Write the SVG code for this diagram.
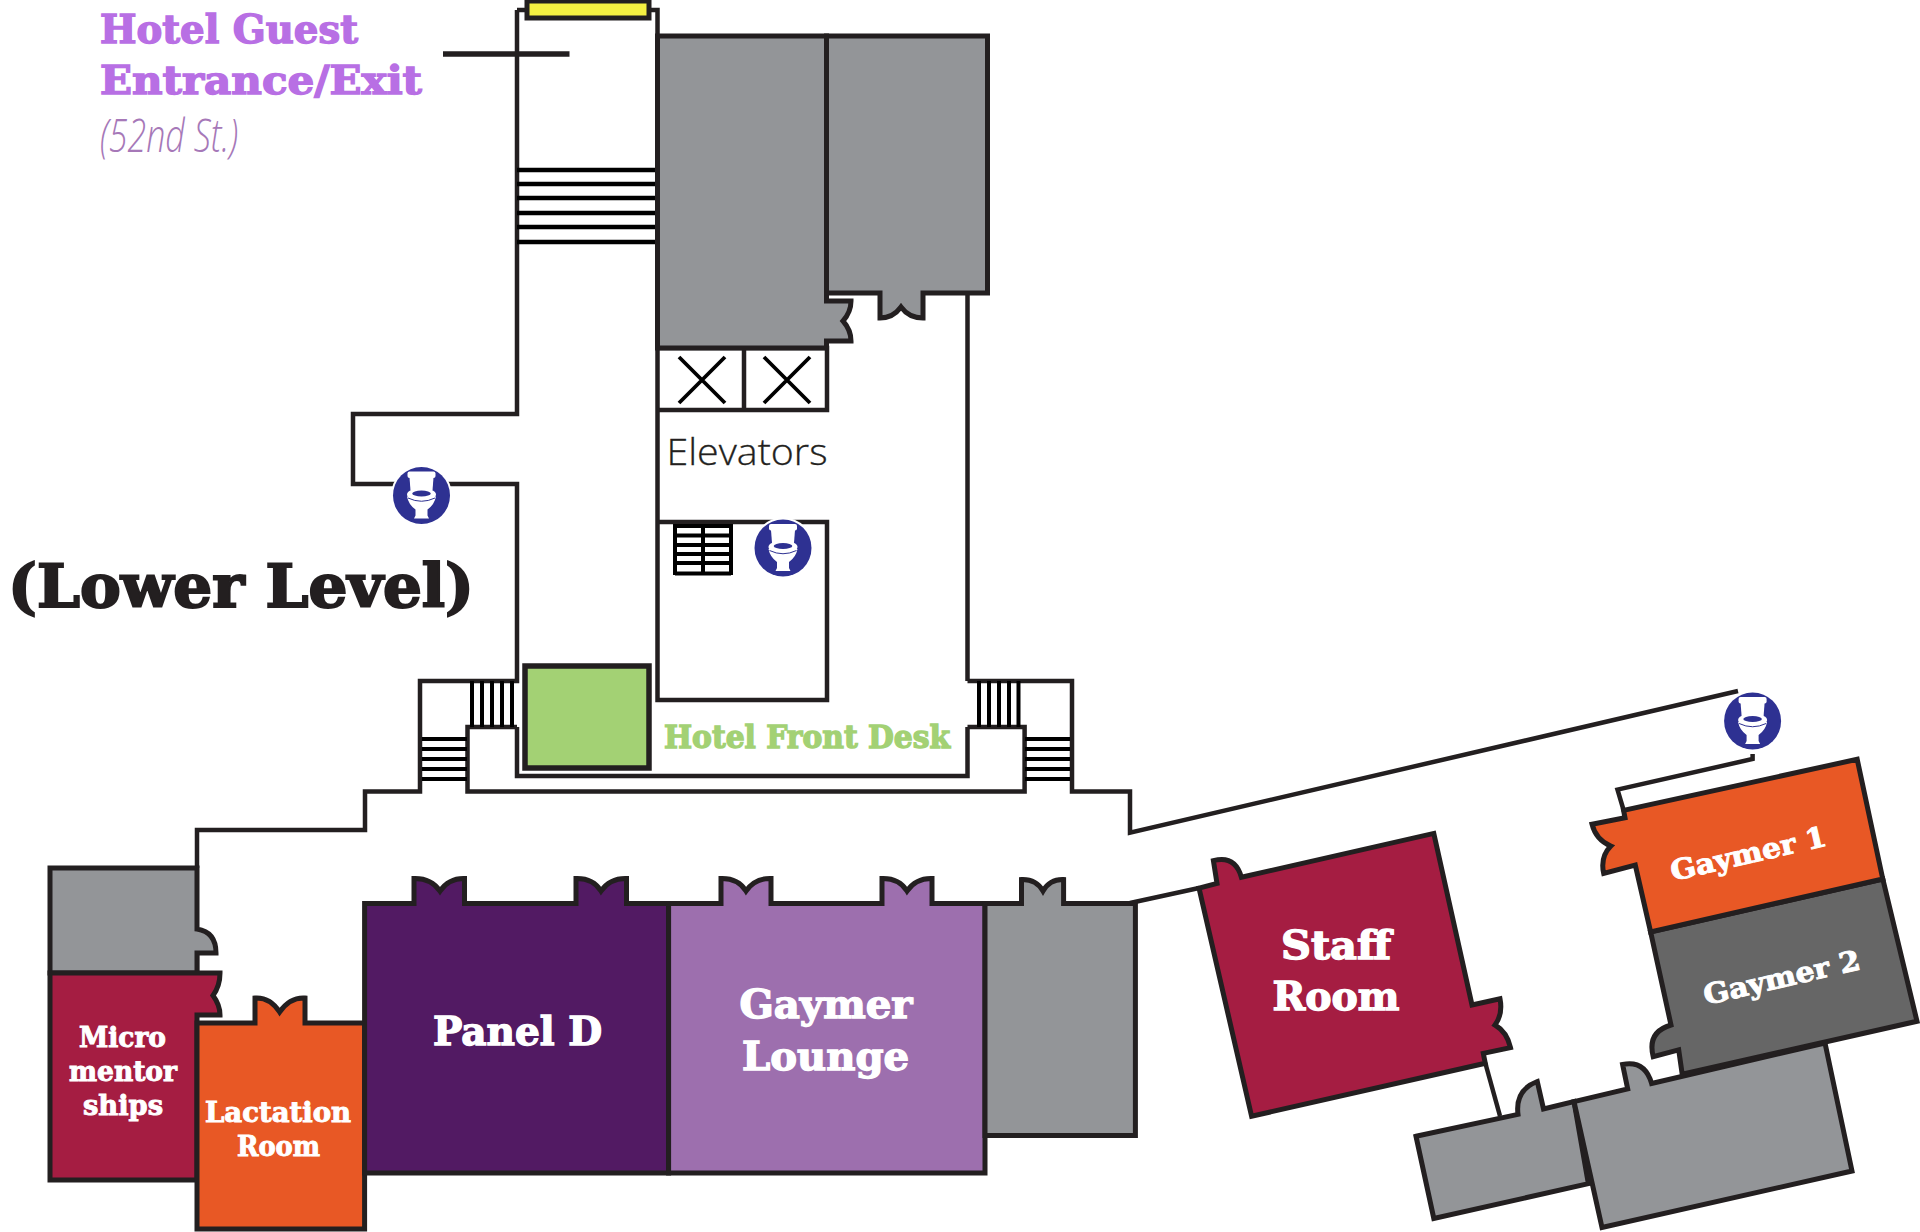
<svg xmlns="http://www.w3.org/2000/svg" xmlns:xlink="http://www.w3.org/1999/xlink" width="1920" height="1232" viewBox="0 0 1920 1232">
<style>
.wall{fill:none;stroke:#231f20;stroke-width:4.5;stroke-linejoin:miter}
.room{stroke:#231f20;stroke-width:5;stroke-linejoin:miter}
.stair{fill:none;stroke:#000;stroke-width:4.5}
.stair2{fill:none;stroke:#000;stroke-width:4}
.gray{fill:#939598}
.crimson{fill:#a51d42}
.orange{fill:#e85825}
.purple{fill:#521a63}
.lav{fill:#9d6fae}
.dgray{fill:#666}
.slab{font-family:"DejaVu Serif Condensed","DejaVu Serif",serif;font-weight:700;stroke-width:1.3;stroke-linejoin:miter}
.w{fill:#fff;stroke:#fff;text-anchor:start}
.m{font-size:28px;stroke-width:.9}
.l{font-size:40px}
</style>
<defs>
<g id="toilet">
<circle r="30.5" fill="#fff"/>
<circle r="28.5" fill="#2e3192"/>
<rect x="-14" y="-24" width="28" height="6.5" rx="2" fill="#fff"/>
<path d="M-12,-18L-11,-5H11L12,-18Z" fill="#fff"/>
<path d="M-14.5,1Q-13,9 -6,14L-6,20L-7.5,23H7.5L6,20L6,14Q13,9 14.5,1Z" fill="#fff"/>
<ellipse cx="0" cy="-1" rx="14.5" ry="6.5" fill="#fff"/>
<ellipse cx="0" cy="-2" rx="9.3" ry="3" fill="#2e3192"/>
<path d="M-13.5,2.5Q0,9 13.5,2.5" fill="none" stroke="#2e3192" stroke-width="1"/>
</g>
</defs>
<rect width="1920" height="1232" fill="#fff"/>
<g id="connectors">
<path class="wall" d="M517,10V414H353V484H517V681H420V791.5H365V830H197V868"/>
<path class="wall" d="M197,953V973"/>
<path class="wall" d="M517,10H657.5V700H827V522H657.5"/>
<path class="wall" d="M517,727H467.5V791.5H1024.6V727H967.5"/>
<path class="wall" d="M517,727V776H967.5V727M967.5,681V294"/>
<path class="wall" d="M967.5,681H1072V791.5H1130V832.6L1738,691"/>
<path class="wall" d="M1130,903L1199,888"/>
<path class="wall" d="M1752.6,754V759L1617.5,789.6L1624,811.5"/>
<path class="wall" d="M1485.3,1063L1500,1116"/>
<path class="wall" d="M657.5,348H827V410H657.5M744,348V410"/>
</g>
<g id="stairs">
<path class="stair" d="M517,170H657M517,184H657M517,198H657M517,213H657M517,227H657M517,242H657"/>
<path class="stair2" d="M472,681V727M482,681V727M492,681V727M502,681V727M512,681V727"/>
<path class="stair2" d="M979,681V727M989,681V727M999,681V727M1009,681V727M1018.5,681V727"/>
<path class="stair2" d="M422,739H467M422,749H467M422,759H467M422,769H467M422,779H467"/>
<path class="stair2" d="M1025,739H1070M1025,749H1070M1025,759H1070M1025,769H1070M1025,779H1070"/>
<path class="stair2" d="M675,526H731M675,535.5H731M675,545H731M675,554H731M675,563H731M675,573.5H731M675,524V575M703,524V575M731,524V575"/>
<path d="M679,357L725,403M725,357L679,403M764,357L810,403M810,357L764,403" fill="none" stroke="#000" stroke-width="3.8"/>
<path d="M443,54H569.5" fill="none" stroke="#231f20" stroke-width="5.5"/>
</g>
<g id="entrance"><rect class="room" x="527" y="1" width="122" height="17" fill="#f5f042"/></g>
<g id="gray-a"><path class="room gray" d="M657.5,36H826.5V301H851Q851,312 843,321Q851,330 851,341H826.5V348H657.5Z"/></g>
<g id="gray-b"><path class="room gray" d="M826.5,36H987.5V293H923V318Q909,318 901,307Q893,318 880,318V293H826.5Z"/></g>
<g id="front-desk"><rect class="room" x="525" y="666" width="124" height="102" fill="#a3d174" style="stroke-width:5.5"/></g>
<g id="gray-c"><path class="room gray" d="M50,868H197V929Q216,932 216,953H197V973H50Z"/></g>
<g id="micromentorships"><path class="room crimson" d="M50,973H220Q220,986 213,995.5Q220,1005 220,1015H197V1180H50Z"/>
<text class="slab w m" x="79" y="1047" textLength="87" lengthAdjust="spacingAndGlyphs">Micro</text>
<text class="slab w m" x="69" y="1081" textLength="108" lengthAdjust="spacingAndGlyphs">mentor</text>
<text class="slab w m" x="83" y="1115" textLength="80" lengthAdjust="spacingAndGlyphs">ships</text></g>
<g id="lactation"><path class="room orange" d="M197,1023H255V998Q270,997 279.6,1012Q290,997 305,998V1023H364.6V1229H197Z"/>
<text class="slab w m" x="205" y="1122" textLength="146" lengthAdjust="spacingAndGlyphs">Lactation</text>
<text class="slab w m" x="237" y="1155.5" textLength="83" lengthAdjust="spacingAndGlyphs">Room</text></g>
<g id="panel-d"><path class="room purple" d="M364.6,903.4H414V878.5Q431,878 440,891Q449,878 464.5,878.5V903.4H576V878.5Q593,878 601,891Q610,878 626.5,878.5V903.4H668.6V1173H364.6Z"/>
<text class="slab w l" x="433" y="1045" textLength="169" lengthAdjust="spacingAndGlyphs">Panel D</text></g>
<g id="gaymer-lounge"><path class="room lav" d="M668.6,903.4H721V878.5Q738,878 746,891Q755,878 771,878.5V903.4H882V878.5Q899,878 907,891Q916,878 932,878.5V903.4H985V1173H668.6Z"/>
<text class="slab w l" x="739.5" y="1018" textLength="173" lengthAdjust="spacingAndGlyphs">Gaymer</text>
<text class="slab w l" x="742" y="1070" textLength="167" lengthAdjust="spacingAndGlyphs">Lounge</text></g>
<g id="gray-d"><path class="room gray" d="M985,903.4H1021.5V879.6Q1036,879 1043,891Q1050,879 1063.6,879.6V903.4H1135.4V1135.5H985Z"/></g>
<g id="staff-room"><path class="room crimson" d="M1199,888.1L1217,883.4L1213.4,860.7Q1235,855 1241.4,877.2L1433.8,833.4L1472,1004.9L1500,998.7Q1503,1014 1495,1025Q1507,1032 1510.5,1047.6L1483.3,1053.4L1485.3,1063.3L1251.6,1116.2Z"/>
<text class="slab w l" x="1281" y="959" textLength="110" lengthAdjust="spacingAndGlyphs">Staff</text>
<text class="slab w l" x="1272.5" y="1010.4" textLength="127" lengthAdjust="spacingAndGlyphs">Room</text></g>
<g id="gray-e"><path class="room gray" d="M1416,1136.3L1518,1114.4Q1515,1090 1537.3,1081.5L1543.5,1108.9L1574,1101.6L1588.4,1183.7L1433.8,1218.4Z"/></g>
<g id="gray-f"><path class="room gray" d="M1574,1101.6L1627.7,1088.9L1622.6,1064.4Q1645,1060 1651.6,1083.4L1825,1043L1852,1171L1602,1227.5Z"/></g>
<g id="gaymer-2"><path class="room dgray" d="M1650.6,931.9L1882.8,879L1917,1021.3L1682.2,1074.2L1678.7,1049.8L1653.2,1056.7Q1647,1032 1671,1025Z"/>
<text class="slab w m" transform="translate(1706,1005) rotate(-13)" textLength="160" lengthAdjust="spacingAndGlyphs">Gaymer 2</text></g>
<g id="gaymer-1"><path class="room orange" d="M1592,824.2L1625,817.7L1623.6,810.4L1857.2,759.3L1882.8,879L1650.6,931.9L1635.3,865.1L1603.7,873.5Q1600,857 1610.8,846.1Q1596,840 1592,824.2Z"/>
<text class="slab w m" transform="translate(1673,881) rotate(-13)" textLength="159" lengthAdjust="spacingAndGlyphs">Gaymer 1</text></g>
<g id="restrooms">
<use href="#toilet" x="421.5" y="495.5"/>
<use href="#toilet" x="783" y="548"/>
<use href="#toilet" x="1752.6" y="721"/>
</g>
<g id="labels">
<text class="slab" x="100" y="43" font-size="39" fill="#b86fe4" stroke="#b86fe4" textLength="258" lengthAdjust="spacingAndGlyphs">Hotel Guest</text>
<text class="slab" x="100" y="94" font-size="39" fill="#b86fe4" stroke="#b86fe4" textLength="322" lengthAdjust="spacingAndGlyphs">Entrance/Exit</text>
<text x="100" y="152" font-family="'Open Sans',sans-serif" font-style="italic" font-weight="300" font-size="46" fill="#a678b8" textLength="138" lengthAdjust="spacingAndGlyphs">(52nd St.)</text>
<text x="666.5" y="464.5" font-family="'Open Sans',sans-serif" font-weight="300" font-size="36" fill="#231f20" stroke="#231f20" stroke-width=".3" textLength="161" lengthAdjust="spacingAndGlyphs">Elevators</text>
<text class="slab" x="8" y="607" font-size="60" fill="#231f20" stroke="#231f20" textLength="466" lengthAdjust="spacingAndGlyphs" style="stroke-width:2">(Lower Level)</text>
<text class="slab" x="664" y="748" font-size="32" fill="#a3d174" stroke="#a3d174" textLength="286" lengthAdjust="spacingAndGlyphs">Hotel Front Desk</text>
</g>
</svg>
